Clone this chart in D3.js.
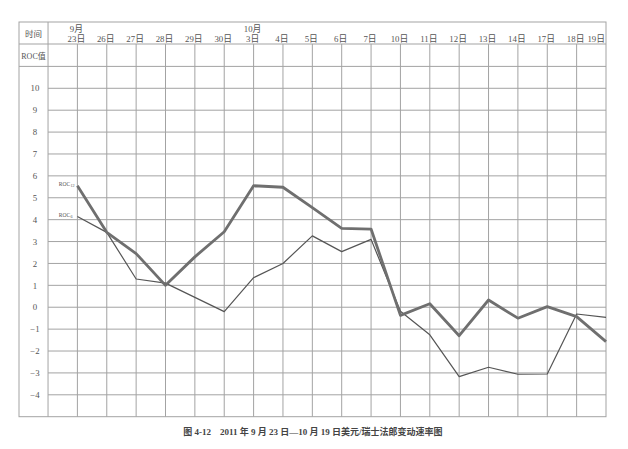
<!DOCTYPE html>
<html><head><meta charset="utf-8">
<script src="https://cdn.jsdelivr.net/npm/d3@7/dist/d3.min.js"></script>
<style>
html,body{margin:0;padding:0;background:#fff;}
svg text{font-family:"Liberation Serif","DejaVu Serif","Noto Sans CJK SC",serif;fill:#555;}
</style></head>
<body><svg id="c" width="628" height="449"></svg>
<script>
const dates = ["23日","26日","27日","28日","29日","30日","3日","4日","5日","6日","7日","10日","11日","12日","13日","14日","17日","18日","19日"];
const months = [{at:"23日", label:"9月"},{at:"3日", label:"10月"}];
const roc12 = [5.55,3.42,2.45,1.0,2.3,3.45,5.55,5.48,4.55,3.6,3.57,-0.37,0.16,-1.3,0.33,-0.5,0.03,-0.43,-1.57];
const roc6  = [4.14,3.42,1.29,1.1,0.45,-0.2,1.35,2.0,3.26,2.54,3.1,-0.18,-1.26,-3.17,-2.74,-3.06,-3.05,-0.31,-0.46];
const yTicks = [10,9,8,7,6,5,4,3,2,1,0,-1,-2,-3,-4];
const caption = "图 4-12　2011 年 9 月 23 日—10 月 19 日美元/瑞士法郎变动速率图";

const svg = d3.select("#c");
const L = 19, T = 22, R = 606, H1 = 44;
const x = d3.scalePoint().domain(dates).range([77.4, R]);
const step = x.step();
const colX = x(dates[0]) - step;
const y = d3.scaleLinear().domain([-5, 11]).range([416.7, 66.4]);
const B = y(-5);
const gridC = "#a3a3a3";

const g = svg.append("g");
g.selectAll("line.h").data(yTicks).join("line")
  .attr("x1", colX).attr("x2", R).attr("y1", d => y(d)).attr("y2", d => y(d))
  .attr("stroke", gridC).attr("stroke-width", 1);
g.selectAll("line.v").data(dates.slice(0, -1)).join("line")
  .attr("x1", d => x(d)).attr("x2", d => x(d)).attr("y1", H1).attr("y2", B)
  .attr("stroke", gridC).attr("stroke-width", 1);
g.append("line").attr("x1", L).attr("x2", R).attr("y1", H1).attr("y2", H1).attr("stroke", gridC);
g.append("line").attr("x1", L).attr("x2", R).attr("y1", y(11)).attr("y2", y(11)).attr("stroke", gridC);
g.append("line").attr("x1", colX).attr("x2", colX).attr("y1", T).attr("y2", B).attr("stroke", gridC);
g.append("rect").attr("x", L).attr("y", T).attr("width", R - L).attr("height", B - T)
  .attr("fill", "none").attr("stroke", gridC);

svg.append("text").attr("x", (L + colX) / 2).attr("y", 37).attr("text-anchor", "middle")
  .attr("font-size", 8.5).text("时间");
svg.append("text").attr("x", (L + colX) / 2).attr("y", 59).attr("text-anchor", "middle")
  .attr("font-size", 8).text("ROC值");
svg.selectAll("text.d").data(dates).join("text")
  .attr("x", (d, i) => i === dates.length - 1 ? R - 1 : x(d) - 1)
  .attr("y", 41.5)
  .attr("text-anchor", (d, i) => i === dates.length - 1 ? "end" : "middle")
  .attr("font-size", 8.8).text(d => d);
svg.selectAll("text.m").data(months).join("text")
  .attr("x", d => x(d.at) - 1).attr("y", 32)
  .attr("text-anchor", "middle").attr("font-size", 8.8).text(d => d.label);

svg.selectAll("text.yt").data(yTicks).join("text")
  .attr("x", 35).attr("y", d => y(d) + 3.2).attr("text-anchor", "middle")
  .attr("font-size", 8.8).text(d => d < 0 ? "−" + Math.abs(d) : d);

const line = d3.line().x((d, i) => x(dates[i])).y(d => y(d));
svg.append("path").datum(roc6).attr("d", line).attr("fill", "none")
  .attr("stroke", "#555").attr("stroke-width", 1.2).attr("stroke-linejoin", "round");
svg.append("path").datum(roc12).attr("d", line).attr("fill", "none")
  .attr("stroke", "#6f6f6f").attr("stroke-width", 2.8).attr("stroke-linejoin", "round");

function lab(txt, sub, v) {
  const yy = y(v) + 1.5;
  const t = svg.append("text").attr("x", 58.7).attr("y", yy).attr("font-size", 5.6);
  t.append("tspan").text(txt);
  t.append("tspan").attr("font-size", 4.2).attr("dx", 0.3).attr("dy", 1.3).text(sub);
}
lab("ROC", "12", roc12[0] + 0.05);
lab("ROC", "6", roc6[0] + 0.05);

svg.append("text").attr("x", 313).attr("y", 435).attr("text-anchor", "middle")
  .attr("font-size", 9).attr("font-weight", "bold").style("fill", "#444").text(caption);
</script></body></html>
